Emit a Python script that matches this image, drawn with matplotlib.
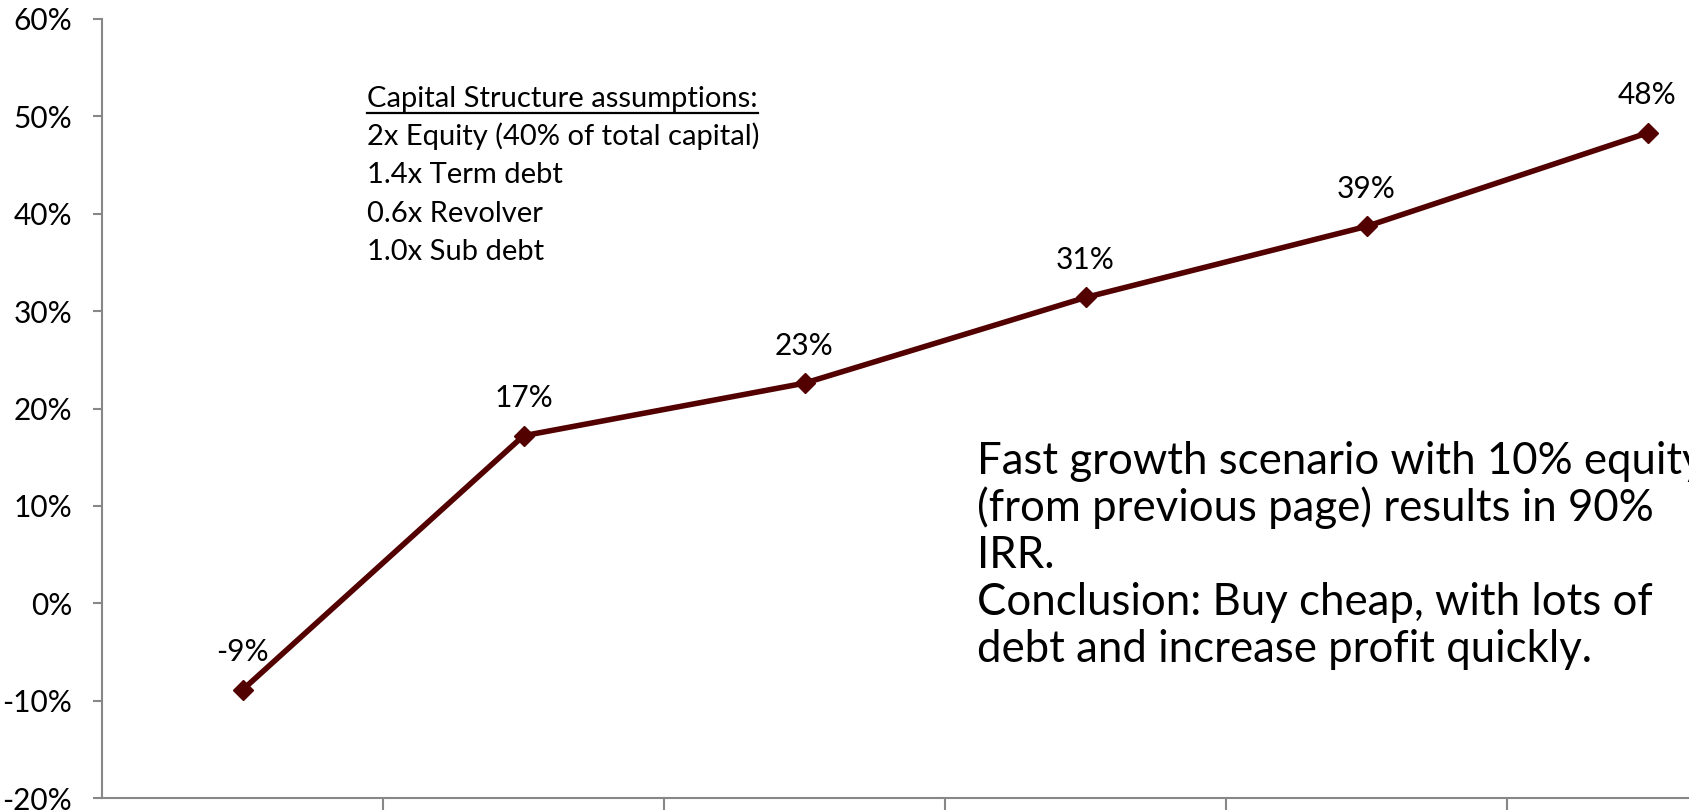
import matplotlib.pyplot as plt
from matplotlib.ticker import FuncFormatter, FixedLocator

plt.rcParams['font.family'] = ['Lato', 'DejaVu Sans']

# IRR by scenario step
steps = [0, 1, 2, 3, 4, 5]
irr = [-0.089, 0.172, 0.226, 0.314, 0.387, 0.483]
irr_labels = ['-9%', '17%', '23%', '31%', '39%', '48%']

y_ticks = [-0.2, -0.1, 0.0, 0.1, 0.2, 0.3, 0.4, 0.5, 0.6]

cap_title = 'Capital Structure assumptions:'
cap_lines = ['2x Equity (40% of total capital)',
             '1.4x Term debt',
             '0.6x Revolver',
             '1.0x Sub debt']
note_lines = ['Fast growth scenario with 10% equity',
              '(from previous page) results in 90%',
              'IRR.',
              'Conclusion: Buy cheap, with lots of',
              'debt and increase profit quickly.']

line_color = '#520000'
axis_color = '#878787'

W, H = 1689, 810
fig = plt.figure(figsize=(W / 100, H / 100), dpi=100)
ax = fig.add_axes([102 / W, 12 / H, 1686 / W, 779 / H])


def px(x, y):
    # pixel position (from top-left) -> figure fraction
    return x / W, 1 - y / H


ax.plot(steps, irr, color=line_color, linewidth=4, marker='D',
        markersize=10.5, zorder=3)

for x, y, lab in zip(steps, irr, irr_labels):
    ax.annotate(lab, xy=(x, y), xytext=(0, 27), textcoords='offset points',
                ha='center', va='center', fontsize=21.5, color='black')

ax.set_xlim(-0.5, 5.5)
ax.set_ylim(-0.2, 0.6)
ax.set_yticks(y_ticks)
ax.yaxis.set_major_formatter(FuncFormatter(lambda v, p: f'{v * 100:.0f}%'))
ax.xaxis.set_major_locator(FixedLocator([0.5, 1.5, 2.5, 3.5, 4.5, 5.5]))
ax.set_xticklabels([])

for side in ['top', 'right']:
    ax.spines[side].set_visible(False)
for side in ['left', 'bottom']:
    ax.spines[side].set_color(axis_color)
    ax.spines[side].set_linewidth(1.5)

ax.tick_params(axis='y', direction='out', length=6.5, width=1.5,
               color=axis_color, pad=15, labelsize=21.5)
ax.tick_params(axis='x', direction='out', length=12, width=1.5,
               color=axis_color)

# capital structure assumptions, title underlined
title = fig.text(*px(367, 106.7), cap_title, ha='left', va='baseline',
                 fontsize=21)
for i, line in enumerate(cap_lines):
    fig.text(*px(367, 106.7 + 38.3 * (i + 1)), line,
             ha='left', va='baseline', fontsize=21)

fig.canvas.draw()
bb = title.get_window_extent()
uy = 1 - 112.5 / H
fig.add_artist(plt.Line2D([bb.x0 / W, bb.x1 / W], [uy, uy],
                          color='black', linewidth=1.6))

# conclusion note
for i, line in enumerate(note_lines):
    fig.text(*px(977, 474 + 47 * i), line, ha='left', va='baseline',
             fontsize=31.5)

plt.savefig('out.png', dpi=100)
